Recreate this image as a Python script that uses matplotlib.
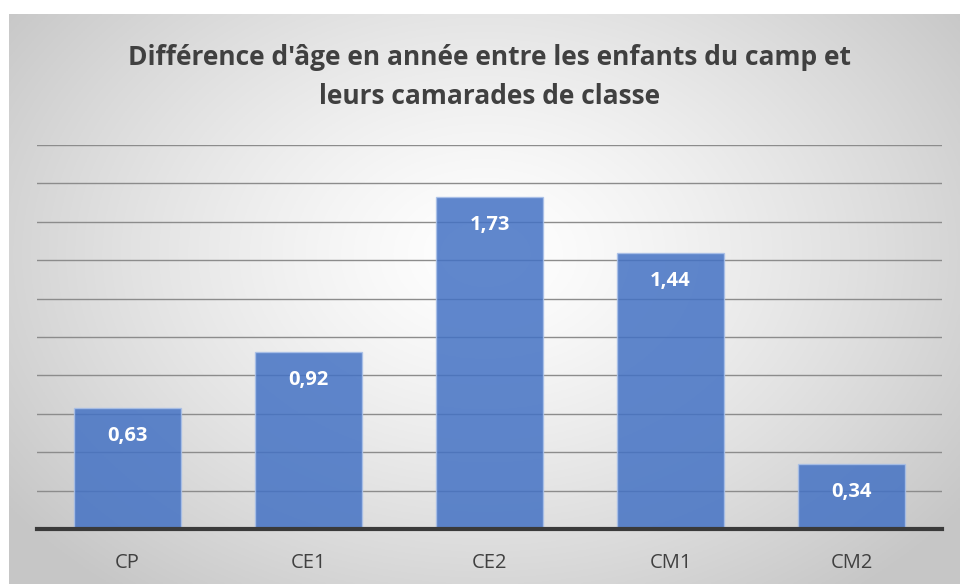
import numpy as np
import matplotlib
matplotlib.use("Agg")
import matplotlib.pyplot as plt

categories = ["CP", "CE1", "CE2", "CM1", "CM2"]
values = [0.63, 0.92, 1.73, 1.44, 0.34]
labels = ["0,63", "0,92", "1,73", "1,44", "0,34"]
title = "Différence d'âge en année entre les enfants du camp et\nleurs camarades de classe"

W, H = 960, 584
fig = plt.figure(figsize=(W / 100, H / 100), dpi=100)
fig.patch.set_facecolor("white")

# gradient background
bg = fig.add_axes([9 / W, 0, 1 - 9 / W, (H - 14) / H])
bg.set_axis_off()
ny, nx = 300, 500
yy, xx = np.mgrid[0:ny, 0:nx]
cx, cy = nx * 0.5, ny * 0.42
d = np.sqrt(((xx - cx) / (nx * 0.62)) ** 2 + ((yy - cy) / (ny * 0.75)) ** 2)
d = np.clip(d, 0, 1)
g = 1.0 - 0.22 * d ** 1.3
img = np.dstack([g, g, g])
bg.imshow(img, aspect="auto", extent=[0, 1, 0, 1], origin="upper")
bg.set_xlim(0, 1)
bg.set_ylim(0, 1)

ax = fig.add_axes([37 / W, 1 - 529 / H, 905 / W, (529 - 145) / H])
ax.patch.set_alpha(0)
x = np.arange(len(categories))
bars = ax.bar(x, values, width=0.59, color="#4472C4", alpha=0.85,
              edgecolor="#a9c0e8", linewidth=1.0, zorder=2)
ax.set_xlim(-0.5, 4.5)
ax.set_ylim(0, 2.0)
ax.set_yticks(np.arange(0.2, 2.01, 0.2))
ax.yaxis.grid(True, color="#8c8c8c", linewidth=1.0, zorder=1)
ax.set_axisbelow(True)
ax.tick_params(axis="y", left=False, labelleft=False)
ax.tick_params(axis="x", bottom=False, labelsize=14.5, colors="#404040", pad=14)
ax.set_xticks(x)
ax.set_xticklabels(categories, fontfamily="Open Sans")
for s in ["top", "right", "left"]:
    ax.spines[s].set_visible(False)
ax.spines["bottom"].set_color("#3a3a3a")
ax.spines["bottom"].set_linewidth(3)
ax.spines["bottom"].set_zorder(5)

for xi, v, lab in zip(x, values, labels):
    ax.annotate(lab, (xi, v), xytext=(0, -28), textcoords="offset pixels",
                ha="center", va="center", color="white", fontsize=14.5,
                fontweight="bold", fontfamily="Open Sans", zorder=4)

fig.text(490 / W, 1 - 77 / H, title, ha="center", va="center",
         fontsize=19, fontweight="bold", color="#404040",
         fontfamily="Open Sans", linespacing=1.6)

fig.savefig("out.png", dpi=100, facecolor="white")
